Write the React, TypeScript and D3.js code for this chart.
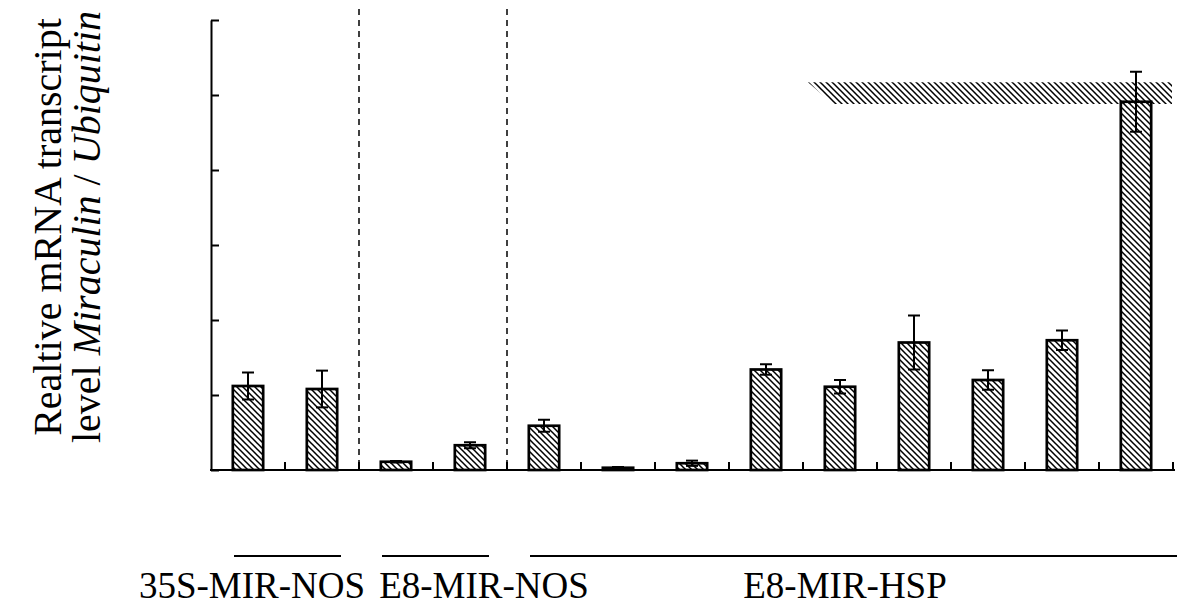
import * as d3 from 'd3';
import React, { useEffect, useRef } from 'react';

// bar values (y axis has no labels, 6 equal steps)
const categories = ['35S-1', '35S-2', 'E8N-1', 'E8N-2', 'HSP-1', 'HSP-2', 'HSP-3', 'HSP-4', 'HSP-5', 'HSP-6', 'HSP-7', 'HSP-8', 'HSP-9'];
const values = [1.12, 1.08, 0.11, 0.33, 0.59, 0.03, 0.09, 1.34, 1.11, 1.70, 1.20, 1.73, 4.91];
const errors = [0.18, 0.245, 0.01, 0.04, 0.08, 0.01, 0.035, 0.07, 0.09, 0.36, 0.13, 0.13, 0.40];
const yTicks = [0, 1, 2, 3, 4, 5, 6];

// construct groups: label, first and last category index
const groupLabels = ['35S-MIR-NOS', 'E8-MIR-NOS', 'E8-MIR-HSP'];
const groupStart = [0, 2, 4];
const groupEnd = [1, 3, 12];
const dividerAfter = [1, 3];

const App = () => {
    const d3Container = useRef(null);
    const W = 1178;
    const H = 606;
    const margin = { top: 20, left: 211, right: 5, bottom: 136 };
    const font = '"Liberation Serif", "Times New Roman", serif';

    useEffect(() => {
        if (!d3Container.current) return;
        const svg = d3.select(d3Container.current);
        svg.selectAll('*').remove();

        const x = d3.scaleBand().domain(categories).range([margin.left, margin.left + 74 * categories.length]).padding(0);
        const y = d3.scaleLinear().domain([0, 6]).range([H - margin.bottom, margin.top]);
        const bw = x.bandwidth() * 0.41;

        // hatch pattern "\"
        const defs = svg.append('defs');
        const pat = defs.append('pattern')
            .attr('id', 'hatch')
            .attr('patternUnits', 'userSpaceOnUse')
            .attr('width', 6)
            .attr('height', 6);
        pat.append('path')
            .attr('d', 'M-1,-1 L7,7 M-1,5 L1,7 M5,-1 L7,1')
            .attr('stroke', '#000')
            .attr('stroke-width', 1.5);

        // dashed dividers
        dividerAfter.forEach(i => {
            const xx = x(categories[i]) + x.bandwidth();
            svg.append('line')
                .attr('x1', xx).attr('x2', xx)
                .attr('y1', 9).attr('y2', y(0))
                .attr('stroke', '#000')
                .attr('stroke-width', 1.5)
                .attr('stroke-dasharray', '6 5');
        });

        // hatched band near the top
        const bandY0 = y(5.17);
        const bandY1 = y(4.88);
        const bx = x('HSP-5');
        const bxr = x('HSP-9') + x.bandwidth() - 1;
        svg.append('path')
            .attr('d', `M${bx + 5},${bandY0} L${bxr},${bandY0} L${bxr},${bandY1} L${bx + 30},${bandY1} Z`)
            .attr('fill', 'url(#hatch)');

        // bars
        svg.selectAll('.bar')
            .data(values)
            .enter().append('rect')
            .attr('class', 'bar')
            .attr('x', (d, i) => x(categories[i]) + (x.bandwidth() - bw) / 2)
            .attr('y', d => y(d))
            .attr('width', bw)
            .attr('height', d => y(0) - y(d))
            .attr('fill', 'url(#hatch)')
            .attr('stroke', '#000')
            .attr('stroke-width', 2.7);

        // error bars
        values.forEach((v, i) => {
            const cx = x(categories[i]) + x.bandwidth() / 2;
            const e = errors[i];
            const g = svg.append('g').attr('stroke', '#000').attr('stroke-width', 2);
            g.append('line').attr('x1', cx).attr('x2', cx).attr('y1', y(v + e)).attr('y2', y(Math.max(0, v - e)));
            g.append('line').attr('x1', cx - 6).attr('x2', cx + 6).attr('y1', y(v + e)).attr('y2', y(v + e));
            g.append('line').attr('x1', cx - 6).attr('x2', cx + 6).attr('y1', y(Math.max(0, v - e))).attr('y2', y(Math.max(0, v - e)));
        });

        // y axis, ticks pointing inward, no labels
        svg.append('g')
            .attr('transform', `translate(${margin.left},0)`)
            .call(d3.axisLeft(y).tickValues(yTicks).tickSizeInner(-8).tickSizeOuter(0).tickFormat(() => ''))
            .call(g => g.selectAll('path,line').attr('stroke', '#000').attr('stroke-width', 2));

        // baseline with category boundary ticks
        svg.append('line')
            .attr('x1', margin.left - 1).attr('x2', W - 3)
            .attr('y1', y(0)).attr('y2', y(0))
            .attr('stroke', '#000').attr('stroke-width', 2);
        categories.forEach(c => {
            const xx = x(c) + x.bandwidth();
            svg.append('line')
                .attr('x1', xx).attr('x2', xx)
                .attr('y1', y(0)).attr('y2', y(0) - 8)
                .attr('stroke', '#000').attr('stroke-width', 2);
        });

        // group lines and labels
        const labelCenter = [252, 484, 845];
        groupLabels.forEach((lab, i) => {
            const x1 = x(categories[groupStart[i]]) + 23;
            const x2 = groupEnd[i] === categories.length - 1 ? W - 1 : x(categories[groupEnd[i]]) + x.bandwidth() - 18;
            svg.append('line')
                .attr('x1', x1).attr('x2', x2)
                .attr('y1', 556).attr('y2', 556)
                .attr('stroke', '#000').attr('stroke-width', 2);
            svg.append('text')
                .attr('x', labelCenter[i])
                .attr('y', 598)
                .attr('text-anchor', 'middle')
                .style('font-family', font)
                .style('font-size', '37px')
                .text(lab);
        });

        // y axis title
        svg.append('text')
            .attr('transform', 'translate(61,227) rotate(-90)')
            .attr('text-anchor', 'middle')
            .style('font-family', font)
            .style('font-size', '40px')
            .text('Realtive mRNA transcript');
        const t2 = svg.append('text')
            .attr('transform', 'translate(100,227) rotate(-90)')
            .attr('text-anchor', 'middle')
            .style('font-family', font)
            .style('font-size', '40px');
        t2.append('tspan').text('level ');
        t2.append('tspan').style('font-style', 'italic').text('Miraculin');
        t2.append('tspan').text(' / ');
        t2.append('tspan').style('font-style', 'italic').text('Ubiquitin');
    }, []);

    return (
        <svg ref={d3Container} width={W} height={H} style={{ position: 'absolute', left: 0, top: 0, background: '#fff' }} />
    );
};

export default App;
